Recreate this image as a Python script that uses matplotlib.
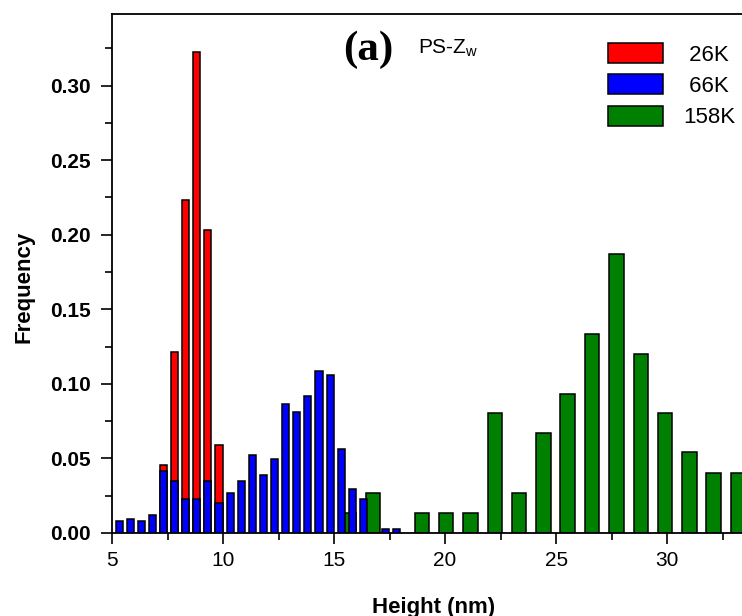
import numpy as np
import matplotlib
matplotlib.use("Agg")
import matplotlib.pyplot as plt
from matplotlib.ticker import MultipleLocator

# histogram bins (bin centre in nm, frequency)
red_x = [7.32, 7.82, 8.32, 8.82, 9.32, 9.82]
red_h = [0.0458, 0.1211, 0.2232, 0.3227, 0.2029, 0.0592]

blue_x = [5.32, 5.82, 6.32, 6.82, 7.32, 7.82, 8.32, 8.82, 9.32, 9.82, 10.32, 10.82, 11.32,
          11.82, 12.32, 12.82, 13.32, 13.82, 14.32, 14.82, 15.32, 15.82, 16.32, 16.82, 17.32, 17.82]
blue_h = [0.0080, 0.0094, 0.0080, 0.0123, 0.0416, 0.0349, 0.0226, 0.0226, 0.0349, 0.0201, 0.0271, 0.0351, 0.0525,
          0.0391, 0.0499, 0.0863, 0.0809, 0.0916, 0.1088, 0.1062, 0.0566, 0.0297, 0.0231, 0.0, 0.0030, 0.0030]

green_x = [15.67, 16.76, 18.95, 20.05, 21.14, 22.24, 23.33, 24.43, 25.52, 26.62, 27.71,
           28.81, 29.90, 31.00, 32.09, 33.19]
green_h = [0.0134, 0.0268, 0.0134, 0.0134, 0.0134, 0.0807, 0.0268, 0.0673, 0.0930, 0.1332, 0.1868,
           0.1198, 0.0807, 0.0541, 0.0403, 0.0403]

labels = [' 26K', ' 66K', '158K']

plt.rcParams['font.family'] = ['Liberation Sans', 'DejaVu Sans']

W, H = 742, 616
fig = plt.figure(figsize=(W / 100, H / 100), dpi=100)
ax = fig.add_axes([112 / W, 83 / H, 644 / W, 519 / H])

ec = dict(edgecolor='black', linewidth=1.1)
b1 = ax.bar(red_x, red_h, width=0.32, color='#ff0000', zorder=2, **ec)
b3 = ax.bar(green_x, green_h, width=0.65, color='#008000', zorder=2, **ec)
b2 = ax.bar(blue_x, blue_h, width=0.32, color='#0000ff', zorder=3, **ec)

ax.set_xlim(5, 34)
ax.set_ylim(0, 0.348)
ax.xaxis.set_major_locator(MultipleLocator(5))
ax.xaxis.set_minor_locator(MultipleLocator(2.5))
ax.yaxis.set_major_locator(MultipleLocator(0.05))
ax.yaxis.set_minor_locator(MultipleLocator(0.025))
ax.yaxis.set_major_formatter(matplotlib.ticker.FormatStrFormatter('%.2f'))

for s in ax.spines.values():
    s.set_linewidth(1.3)
ax.tick_params(which='major', direction='out', length=8, width=1.2)
ax.tick_params(which='minor', direction='out', length=5, width=1.2)
ax.tick_params(axis='x', which='major', labelsize=15, pad=5)
ax.tick_params(axis='y', which='major', labelsize=15, pad=7)
for t in ax.get_yticklabels():
    t.set_fontweight('bold')

ax.set_xlabel('Height (nm)', fontsize=16, fontweight='bold')
ax.xaxis.set_label_coords((434 - 112) / 644, -(607 - 533) / 519)
ax.set_ylabel('Frequency', fontsize=16, fontweight='bold')
ax.yaxis.set_label_coords(-(112 - 24) / 644, (533 - 287) / 519)
ax.xaxis.label.set_va('center')
ax.yaxis.label.set_va('center')

fig.text(343 / W, 1 - 50 / H, '(a)', family='Liberation Serif', fontweight='bold',
         fontsize=31, va='center', ha='left')
fig.text(418 / W, 1 - 53 / H, r'PS-Z$_\mathregular{w}$', fontsize=15, va='baseline', ha='left')

ax.legend([b1, b2, b3], labels, loc='upper left', bbox_to_anchor=(608 / W, 1 - 43 / H),
          bbox_transform=fig.transFigure, frameon=False, fontsize=16, borderpad=0,
          borderaxespad=0, handlelength=2.48, handleheight=1.0, labelspacing=0.4,
          handletextpad=0.9)

fig.savefig('out.png', dpi=100)
